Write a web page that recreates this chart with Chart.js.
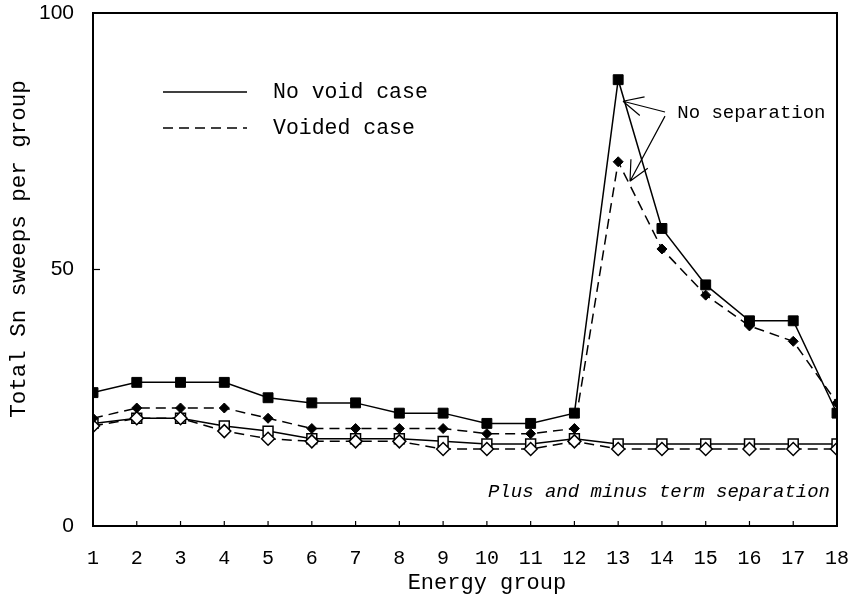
<!DOCTYPE html>
<html>
<head>
<meta charset="utf-8">
<script src="https://cdn.jsdelivr.net/npm/chart.js@4/dist/chart.umd.min.js"></script>
<style>
  html, body { margin: 0; padding: 0; background: #fff; }
  #wrap { width: 851px; height: 599px; }
</style>
</head>
<body>
<div id="wrap"><canvas id="sweeps" width="851" height="599"></canvas></div>
<script>
const groups = [1, 2, 3, 4, 5, 6, 7, 8, 9, 10, 11, 12, 13, 14, 15, 16, 17, 18];

// no separation
const noVoid = [26, 28, 28, 28, 25, 24, 24, 22, 22, 20, 20, 22, 87, 58, 47, 40, 40, 22];
const voided = [21, 23, 23, 23, 21, 19, 19, 19, 19, 18, 18, 19, 71, 54, 45, 39, 36, 24];

// plus and minus term separation
const noVoidSep = [20, 21, 21, 19.5, 18.5, 17, 17, 17, 16.5, 16, 16, 17, 16, 16, 16, 16, 16, 16];
const voidedSep = [19.5, 21, 21, 18.5, 17, 16.5, 16.5, 16.5, 15, 15, 15, 16.5, 15, 15, 15, 15, 15, 15];

const yTicks = [0, 50, 100];

const MONO = "'Liberation Mono', 'DejaVu Sans Mono', monospace";
const SANS = "'Liberation Sans', Arial, sans-serif";
const DASH = [10, 6];

const toPoints = vals => groups.map((g, i) => ({ x: g, y: vals[i] }));

// frame, inward ticks, axis titles, legend and notes
const decorations = {
  id: "decorations",
  afterDatasetsDraw(chart) {
    const { ctx, chartArea: a, scales: { x, y } } = chart;
    ctx.save();
    ctx.strokeStyle = "#000";
    ctx.fillStyle = "#000";

    ctx.lineWidth = 2;
    ctx.strokeRect(a.left, a.top, a.right - a.left, a.bottom - a.top);

    ctx.lineWidth = 1.2;
    groups.slice(1, -1).forEach(g => {
      const px = x.getPixelForValue(g);
      ctx.beginPath();
      ctx.moveTo(px, a.bottom);
      ctx.lineTo(px, a.bottom - 5);
      ctx.stroke();
    });
    yTicks.slice(1, -1).forEach(v => {
      const py = y.getPixelForValue(v);
      ctx.beginPath();
      ctx.moveTo(a.left, py);
      ctx.lineTo(a.left + 7, py);
      ctx.stroke();
    });

    // axis titles
    ctx.textBaseline = "middle";
    ctx.textAlign = "center";
    ctx.font = "22px " + MONO;
    ctx.fillText("Energy group", x.getPixelForValue(10), 583);
    ctx.save();
    ctx.translate(19, y.getPixelForValue(54));
    ctx.rotate(-Math.PI / 2);
    ctx.font = "22.5px " + MONO;
    ctx.fillText("Total Sn sweeps per group", 0, 0);
    ctx.restore();

    // legend
    ctx.lineWidth = 1.5;
    ctx.font = "21.5px " + MONO;
    ctx.textAlign = "left";
    const lx0 = a.left + 70, lx1 = a.left + 154;
    [["No void case", [], 79], ["Voided case", DASH, 115]].forEach(([label, dash, dy]) => {
      ctx.setLineDash(dash);
      ctx.beginPath();
      ctx.moveTo(lx0, a.top + dy);
      ctx.lineTo(lx1, a.top + dy);
      ctx.stroke();
      ctx.setLineDash([]);
      ctx.fillText(label, a.left + 180, a.top + dy);
    });

    // "No separation" with two arrows
    ctx.font = "19px " + MONO;
    ctx.fillText("No separation", x.getPixelForValue(14.35), y.getPixelForValue(80.6));
    ctx.lineWidth = 1.2;
    const arrow = (fx, fy, tx, ty) => {
      const x0 = x.getPixelForValue(fx), y0 = y.getPixelForValue(fy);
      const x1 = x.getPixelForValue(tx), y1 = y.getPixelForValue(ty);
      const ang = Math.atan2(y0 - y1, x0 - x1);
      ctx.beginPath();
      ctx.moveTo(x0, y0);
      ctx.lineTo(x1, y1);
      [-0.45, 0.45].forEach(d => {
        ctx.moveTo(x1, y1);
        ctx.lineTo(x1 + 22 * Math.cos(ang + d), y1 + 22 * Math.sin(ang + d));
      });
      ctx.stroke();
    };
    arrow(14.07, 80.7, 13.11, 82.8);
    arrow(14.07, 79.9, 13.27, 67.2);

    ctx.font = "italic 19px " + MONO;
    ctx.textAlign = "right";
    ctx.fillText("Plus and minus term separation", x.getPixelForValue(17.84), y.getPixelForValue(6.6));
    ctx.restore();
  }
};

new Chart(document.getElementById("sweeps"), {
  type: "line",
  data: {
    datasets: [
      {
        label: "No void case",
        data: toPoints(noVoid),
        borderColor: "#000",
        borderWidth: 1.5,
        pointStyle: "rect",
        pointRadius: 7,
        pointBackgroundColor: "#000",
        pointBorderColor: "#000",
        pointBorderWidth: 1
      },
      {
        label: "Voided case",
        data: toPoints(voided),
        borderColor: "#000",
        borderWidth: 1.5,
        borderDash: DASH,
        pointStyle: "rectRot",
        pointRadius: 5,
        pointBackgroundColor: "#000",
        pointBorderColor: "#000",
        pointBorderWidth: 1
      },
      {
        label: "Voided case, separated",
        data: toPoints(voidedSep),
        borderColor: "#000",
        borderWidth: 1.5,
        borderDash: DASH,
        pointStyle: "rectRot",
        pointRadius: 6.5,
        pointBackgroundColor: "#fff",
        pointBorderColor: "#000",
        pointBorderWidth: 1.5
      },
      {
        label: "No void case, separated",
        data: toPoints(noVoidSep),
        borderColor: "#000",
        borderWidth: 1.5,
        pointStyle: "rect",
        pointRadius: 7,
        pointBackgroundColor: "#fff",
        pointBorderColor: "#000",
        pointBorderWidth: 1.5
      }
    ]
  },
  options: {
    responsive: false,
    animation: false,
    layout: { padding: { top: 13, right: 14, left: 0, bottom: 0 } },
    plugins: {
      legend: { display: false },
      tooltip: { enabled: false }
    },
    scales: {
      x: {
        type: "linear",
        min: 1,
        max: 18,
        afterFit: s => {
          s.height = 73;
          s.paddingLeft = 0;
          s.paddingRight = 0;
        },
        afterBuildTicks: s => { s.ticks = groups.map(v => ({ value: v })); },
        border: { display: true, color: "#000", width: 2 },
        grid: { display: false },
        ticks: {
          color: "#000",
          padding: 13,
          maxRotation: 0,
          autoSkip: false,
          font: { family: MONO, size: 20 }
        }
      },
      y: {
        min: 0,
        max: 100,
        afterFit: s => {
          s.width = 93;
          s.paddingTop = 0;
          s.paddingBottom = 0;
        },
        afterBuildTicks: s => { s.ticks = yTicks.map(v => ({ value: v })); },
        border: { display: true, color: "#000", width: 2 },
        grid: { display: false },
        ticks: {
          color: "#000",
          padding: 11,
          font: { family: SANS, size: 21 }
        }
      }
    }
  },
  plugins: [decorations]
});
</script>
</body>
</html>
